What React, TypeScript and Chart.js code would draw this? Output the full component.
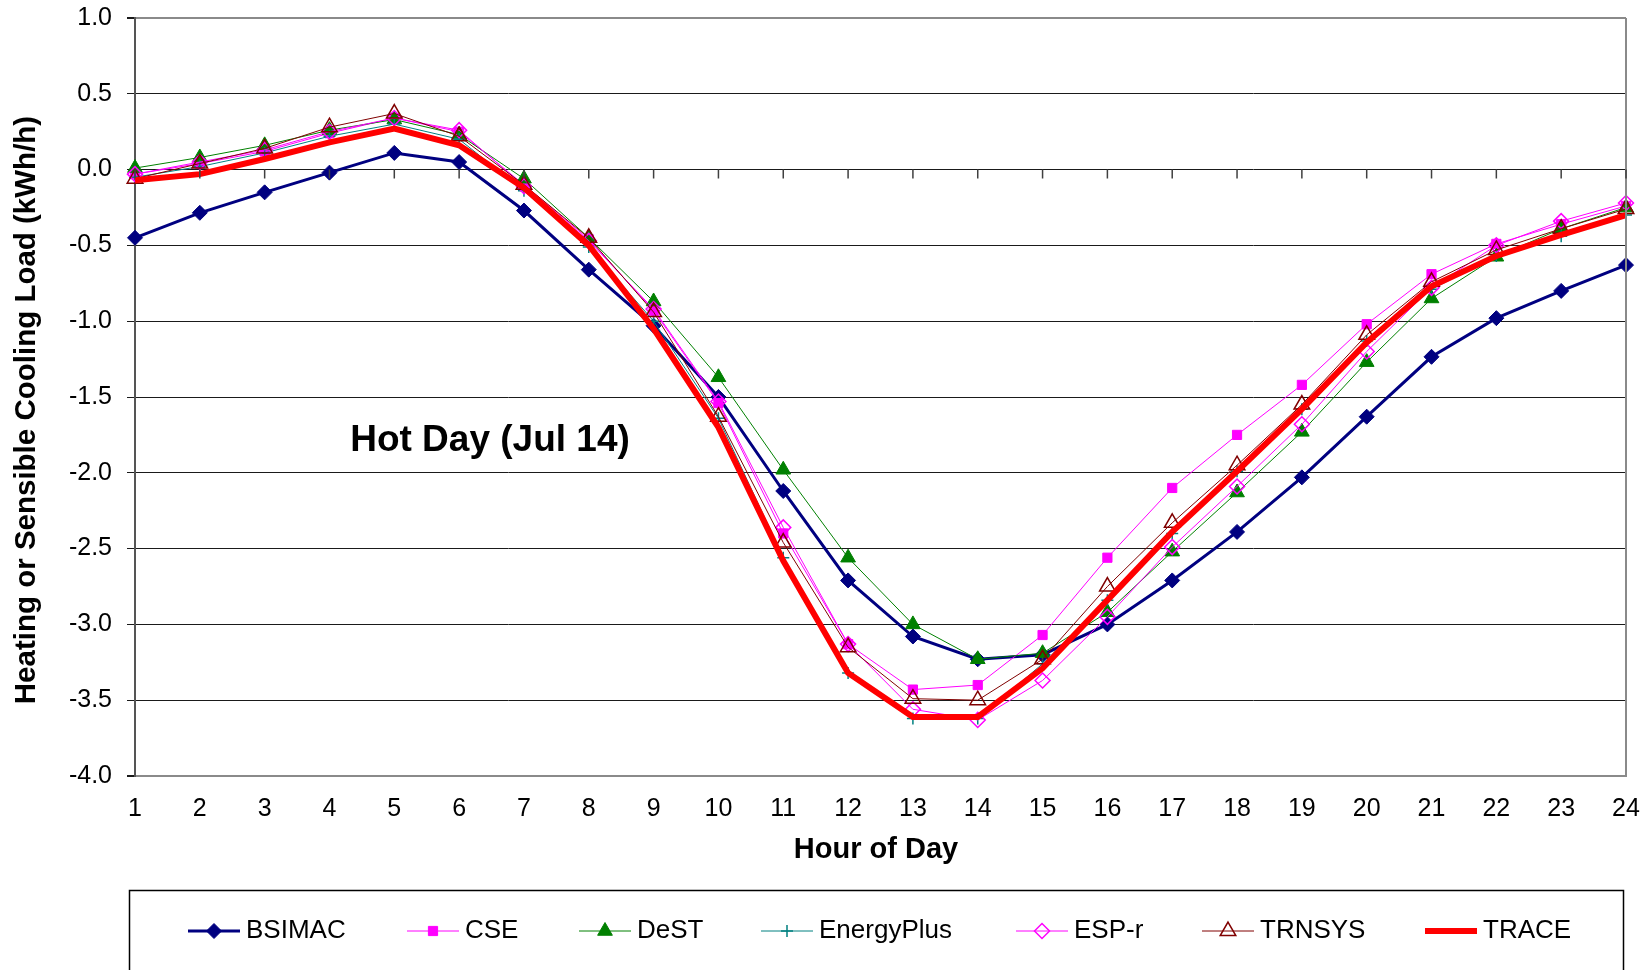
import React, { useEffect, useRef } from "react";
import { Chart, registerables } from "chart.js";
import { drawPoint } from "chart.js/helpers";

Chart.register(...registerables);

const hours = ["1","2","3","4","5","6","7","8","9","10","11","12","13","14","15","16","17","18","19","20","21","22","23","24"];

const bsimac = [-0.45,-0.285,-0.15,-0.02,0.11,0.05,-0.27,-0.66,-1.03,-1.50,-2.12,-2.71,-3.08,-3.23,-3.20,-3.00,-2.71,-2.39,-2.03,-1.63,-1.235,-0.98,-0.80,-0.63];
const cse = [-0.03,0.04,0.12,0.24,0.34,0.25,-0.10,-0.46,-0.93,-1.54,-2.40,-3.13,-3.43,-3.40,-3.07,-2.56,-2.10,-1.75,-1.42,-1.02,-0.69,-0.49,-0.36,-0.24];
const dest = [0.01,0.08,0.16,0.26,0.33,0.23,-0.06,-0.45,-0.87,-1.37,-1.98,-2.56,-3.00,-3.23,-3.19,-2.92,-2.52,-2.13,-1.73,-1.27,-0.85,-0.575,-0.39,-0.25];
const energyPlus = [-0.05,0.02,0.11,0.22,0.30,0.20,-0.14,-0.51,-1.00,-1.64,-2.56,-3.32,-3.62,-3.62,-3.26,-2.84,-2.40,-1.99,-1.58,-1.13,-0.79,-0.57,-0.44,-0.30];
const espR = [-0.03,0.05,0.13,0.25,0.34,0.26,-0.11,-0.47,-0.92,-1.53,-2.36,-3.13,-3.56,-3.63,-3.37,-2.95,-2.49,-2.09,-1.68,-1.20,-0.78,-0.50,-0.34,-0.22];
const trnsys = [-0.06,0.04,0.14,0.28,0.37,0.22,-0.10,-0.45,-0.94,-1.63,-2.46,-3.15,-3.49,-3.50,-3.23,-2.75,-2.33,-1.95,-1.55,-1.09,-0.74,-0.53,-0.39,-0.26];
const trace = [-0.07,-0.03,0.07,0.18,0.27,0.16,-0.12,-0.50,-1.05,-1.70,-2.58,-3.32,-3.61,-3.61,-3.29,-2.84,-2.39,-1.99,-1.58,-1.14,-0.77,-0.57,-0.43,-0.30];

const FONT = '"Liberation Sans", Arial, sans-serif';

const overlayPlugin = {
  id: "overlay",
  afterDraw(chart: any) {
    const ctx = chart.ctx;
    const area = chart.chartArea;
    const xs = chart.scales.x;
    const ys = chart.scales.y;
    ctx.save();
    // right border
    ctx.strokeStyle = "#8a8a8a";
    ctx.lineWidth = 2;
    ctx.beginPath();
    ctx.moveTo(area.right, area.top);
    ctx.lineTo(area.right, area.bottom);
    ctx.stroke();
    // category axis tick marks at y = 0
    const y0 = ys.getPixelForValue(0);
    ctx.strokeStyle = "#404040";
    ctx.lineWidth = 1.5;
    ctx.beginPath();
    for (let i = 0; i < hours.length; i++) {
      const x = xs.getPixelForValue(i);
      ctx.moveTo(x, y0);
      ctx.lineTo(x, y0 + 9);
    }
    ctx.stroke();
    // annotation
    ctx.fillStyle = "#000";
    ctx.font = `bold 37px ${FONT}`;
    ctx.textAlign = "center";
    ctx.textBaseline = "middle";
    ctx.fillText("Hot Day (Jul 14)", 490, 441);
    // axis titles
    ctx.font = `bold 29px ${FONT}`;
    ctx.fillText("Hour of Day", 876, 850);
    ctx.save();
    ctx.translate(27, 410);
    ctx.rotate(-Math.PI / 2);
    ctx.font = `bold 29.5px ${FONT}`;
    ctx.fillText("Heating or Sensible Cooling Load (kWh/h)", 0, 0);
    ctx.restore();
    // legend box
    ctx.strokeStyle = "#000";
    ctx.lineWidth = 1.5;
    ctx.beginPath();
    ctx.moveTo(129.5, 980);
    ctx.lineTo(129.5, 890.5);
    ctx.lineTo(1623.5, 890.5);
    ctx.lineTo(1623.5, 980);
    ctx.stroke();
    const starts = [188, 407, 579, 761, 1016, 1202, 1425];
    const ly = 931;
    chart.data.datasets.forEach((ds: any, i: number) => {
      const x0 = starts[i];
      const x1 = x0 + 52;
      ctx.strokeStyle = ds.borderColor;
      ctx.lineWidth = ds.borderWidth;
      ctx.beginPath();
      ctx.moveTo(x0, ly);
      ctx.lineTo(x1, ly);
      ctx.stroke();
      if (ds.pointRadius > 0) {
        ctx.fillStyle = ds.pointBackgroundColor;
        ctx.strokeStyle = ds.pointBorderColor;
        ctx.lineWidth = ds.pointBorderWidth;
        drawPoint(ctx, { pointStyle: ds.pointStyle, rotation: 0, radius: ds.pointRadius, borderWidth: ds.pointBorderWidth }, (x0 + x1) / 2, ly);
      }
      ctx.fillStyle = "#000";
      ctx.font = `26px ${FONT}`;
      ctx.textAlign = "left";
      ctx.textBaseline = "middle";
      ctx.fillText(ds.label, x1 + 6, ly);
    });
    ctx.restore();
  },
};

function series(label: string, data: number[], color: string, width: number, style: any, radius: number, fill: string, pbw: number, order: number) {
  return {
    label,
    data,
    borderColor: color,
    backgroundColor: color,
    borderWidth: width,
    pointStyle: style,
    pointRadius: radius,
    pointHoverRadius: radius,
    pointBackgroundColor: fill,
    pointBorderColor: color,
    pointBorderWidth: pbw,
    tension: 0,
    clip: false,
    order,
  };
}

function zeroPad(s: any) {
  s.paddingTop = 0;
  s.paddingBottom = 0;
  s.paddingLeft = 0;
  s.paddingRight = 0;
}

export default function App() {
  const ref = useRef<HTMLCanvasElement>(null);
  useEffect(() => {
    if (!ref.current) return;
    const chart = new Chart(ref.current, {
      type: "line",
      data: {
        labels: hours,
        datasets: [
          series("BSIMAC", bsimac, "#000080", 3, "rectRot", 7.5, "#000080", 1, 7),
          series("CSE", cse, "#FF00FF", 1, "rect", 6.5, "#FF00FF", 1, 6),
          series("DeST", dest, "#008000", 1, "triangle", 8.5, "#008000", 1, 5),
          series("EnergyPlus", energyPlus, "#008080", 1, "cross", 6, "#008080", 1.5, 4),
          series("ESP-r", espR, "#FF00FF", 1, "rectRot", 7.5, "rgba(0,0,0,0)", 1.5, 3),
          series("TRNSYS", trnsys, "#800000", 1, "triangle", 9, "rgba(0,0,0,0)", 1.5, 2),
          series("TRACE", trace, "#FF0000", 6, "circle", 0, "#FF0000", 0, 1),
        ] as any,
      },
      options: {
        animation: false,
        responsive: false,
        devicePixelRatio: 1,
        layout: { padding: { top: 18, right: 23, left: 0, bottom: 0 } },
        plugins: { legend: { display: false }, tooltip: { enabled: false }, title: { display: false } },
        scales: {
          x: {
            type: "category",
            offset: false,
            grid: { display: false, drawTicks: false },
            border: { display: true, color: "#8a8a8a", width: 2 },
            ticks: { color: "#000", font: { family: FONT, size: 25 }, padding: 18, maxRotation: 0, autoSkip: false },
            afterFit: (s: any) => { s.height = 194; zeroPad(s); },
          },
          y: {
            type: "linear",
            min: -4,
            max: 1,
            grid: {
              color: (c: any) => (c.tick && (c.tick.value === 1 || c.tick.value === -4) ? "#8a8a8a" : "#1a1a1a"),
              lineWidth: (c: any) => (c.tick && (c.tick.value === 1 || c.tick.value === -4) ? 2 : 1),
              tickLength: 8,
              tickColor: "#1a1a1a",
            },
            border: { display: true, color: "#555", width: 2 },
            ticks: {
              stepSize: 0.5,
              color: "#000",
              font: { family: FONT, size: 25 },
              padding: 15,
              callback: (v: any) => Number(v).toFixed(1),
            },
            afterFit: (s: any) => { s.width = 135; zeroPad(s); },
          },
        },
      } as any,
      plugins: [overlayPlugin],
    });
    return () => chart.destroy();
  }, []);
  return (
    <div style={{ position: "absolute", left: 0, top: 0, width: 1649, height: 970, background: "#fff" }}>
      <canvas ref={ref} width={1649} height={970} style={{ display: "block" }} />
    </div>
  );
}
